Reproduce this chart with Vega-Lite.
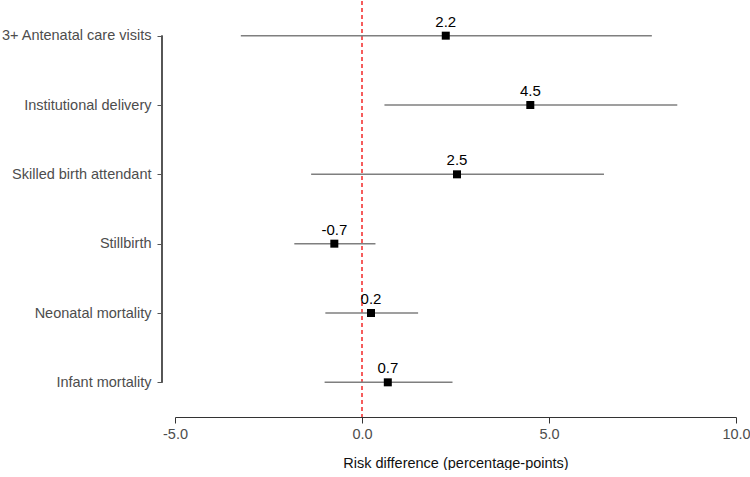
{
  "$schema": "https://vega.github.io/schema/vega-lite/v6.json",
  "width": 561,
  "height": 416,
  "padding": {"left": 0, "top": 0, "right": 0, "bottom": 0},
  "background": "white",
  "config": {
    "view": {"stroke": null},
    "font": "Liberation Sans"
  },
  "data": {
    "values": [
      {"outcome": "3+ Antenatal care visits", "estimate": 2.24, "label": "2.2", "lower": -3.24, "upper": 7.75},
      {"outcome": "Institutional delivery", "estimate": 4.5, "label": "4.5", "lower": 0.6, "upper": 8.43},
      {"outcome": "Skilled birth attendant", "estimate": 2.54, "label": "2.5", "lower": -1.36, "upper": 6.47},
      {"outcome": "Stillbirth", "estimate": -0.74, "label": "-0.7", "lower": -1.81, "upper": 0.36},
      {"outcome": "Neonatal mortality", "estimate": 0.24, "label": "0.2", "lower": -0.98, "upper": 1.5},
      {"outcome": "Infant mortality", "estimate": 0.69, "label": "0.7", "lower": -1.0, "upper": 2.42}
    ]
  },
  "encoding": {
    "y": {
      "field": "outcome",
      "type": "nominal",
      "sort": ["3+ Antenatal care visits", "Institutional delivery", "Skilled birth attendant", "Stillbirth", "Neonatal mortality", "Infant mortality"],
      "scale": {"type": "point", "padding": 0.5},
      "axis": {
        "title": null,
        "offset": 13,
        "domain": false,
        "ticks": true,
        "tickSize": 5,
        "tickColor": "#555555",
        "labelFontSize": 14.5,
        "labelColor": "#4d4d4d",
        "labelPadding": 6,
        "labelFont": "Liberation Sans"
      }
    }
  },
  "layer": [
    {
      "mark": {"type": "rule", "color": "#f55a5a", "strokeDash": [4, 3], "strokeWidth": 1},
      "encoding": {"x": {"datum": 0, "type": "quantitative"}, "y": null}
    },
    {
      "mark": {"type": "rule", "color": "#555555", "strokeWidth": 1},
      "encoding": {
        "x": {"datum": -5.348, "type": "quantitative"},
        "y": {"datum": "3+ Antenatal care visits", "type": "nominal"},
        "y2": {"datum": "Infant mortality"}
      }
    },
    {
      "mark": {"type": "rule", "color": "#7f7f7f", "strokeWidth": 1.5},
      "encoding": {
        "x": {
          "field": "lower",
          "type": "quantitative",
          "scale": {"domain": [-5, 10], "nice": false, "zero": false},
          "axis": {
            "title": "Risk difference (percentage-points)",
            "values": [-5, 0, 5, 10],
            "labelExpr": "replace(format(datum.value, '.1f'), '−', '-')",
            "grid": false,
            "domainColor": "#333333",
            "domainWidth": 1,
            "tickColor": "#333333",
            "tickSize": 6,
            "labelFontSize": 14.5,
            "labelColor": "#4d4d4d",
            "labelPadding": 4,
            "labelFlush": false,
            "titleFontSize": 14.5,
            "titleFontWeight": "normal",
            "titleColor": "#111111",
            "titlePadding": 16
          }
        },
        "x2": {"field": "upper"}
      }
    },
    {
      "mark": {"type": "point", "shape": "square", "filled": true, "color": "black", "opacity": 1, "size": 64},
      "encoding": {"x": {"field": "estimate", "type": "quantitative"}}
    },
    {
      "mark": {"type": "text", "dy": -14, "fontSize": 15, "color": "#000000", "font": "Liberation Sans"},
      "encoding": {
        "x": {"field": "estimate", "type": "quantitative"},
        "text": {"field": "label", "type": "nominal"}
      }
    }
  ]
}
